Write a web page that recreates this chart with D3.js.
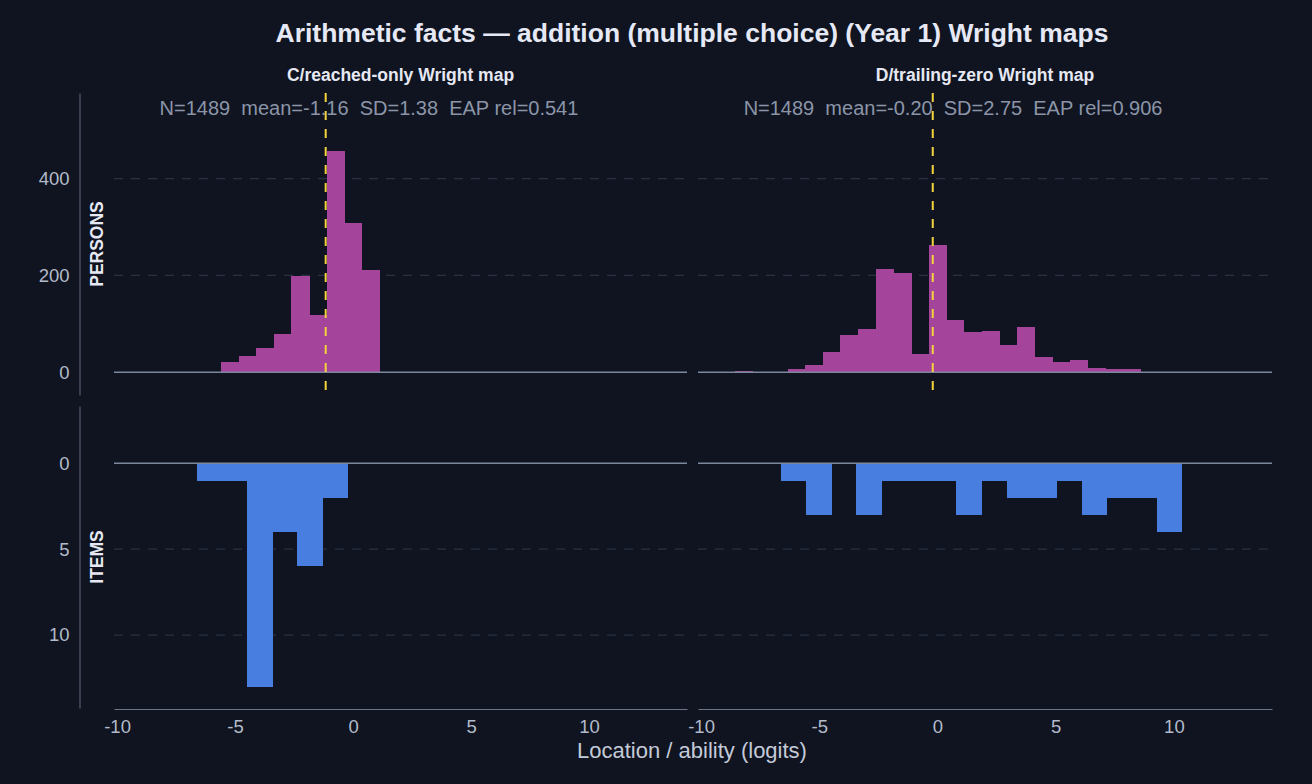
<!DOCTYPE html>
<html>
<head>
<meta charset="utf-8">
<script src="https://cdn.jsdelivr.net/npm/d3@7"></script>
<style>
  html, body { margin: 0; padding: 0; background: #0f1420; }
  svg { display: block; font-family: "Liberation Sans", Arial, Helvetica, sans-serif; }
</style>
</head>
<body>
<div id="chart"></div>
<script>
// ---- data ----
const panelTitles = ['C/reached-only Wright map', 'D/trailing-zero Wright map'];
const panelStats = [
  'N=1489  mean=-1.16  SD=1.38  EAP rel=0.541',
  'N=1489  mean=-0.20  SD=2.75  EAP rel=0.906'
];
const personMeans = [-1.16, -0.20];

// person histogram: shared bins
const personBinStart = -8.58;
const personBinWidth = 0.746;
const personCountsC = [0, 0, 0, 0, 21, 34, 50, 79, 199, 118, 458, 308, 211, 0, 0, 0, 0, 0, 0, 0, 0, 0, 0];
const personCountsD = [3, 0, 0, 7, 15, 42, 78, 90, 214, 206, 38, 263, 108, 84, 86, 56, 93, 32, 22, 26, 8, 6, 6];

// item histogram: shared bins
const itemBinStart = -6.61;
const itemBinWidth = 1.059;
const itemCountsC = [1, 1, 13, 4, 6, 2, 0, 0, 0, 0, 0, 0, 0, 0, 0, 0];
const itemCountsD = [1, 3, 0, 3, 1, 1, 1, 3, 1, 2, 2, 1, 3, 2, 2, 4];

const xTicks = [-10, -5, 0, 5, 10];
const personTicks = [0, 200, 400];
const itemTicks = [0, 5, 10];
const personGrid = [200, 400];
const itemGrid = [5, 10];

const W = 1312, H = 784;
const bg = '#0f1420';
const personColor = '#a5449b';
const itemColor = '#477ee0';
const meanColor = '#f2d33c';
const gridColor = '#283042';
const baseColor = '#7c879d';
const tickColor = '#b3bbca';

const panelsX = [[114, 687], [698, 1272]];
const personY = [395, 93];   // bottom, top
const itemY = [406, 708];    // top, bottom

const svg = d3.select('#chart').append('svg')
  .attr('width', W).attr('height', H)
  .attr('viewBox', `0 0 ${W} ${H}`);

svg.append('rect').attr('width', W).attr('height', H).attr('fill', bg);

const yP = d3.scaleLinear().domain([-47, 577]).range(personY);
const yI = d3.scaleLinear().domain([-3.34, 14.25]).range(itemY);

function binsOf(counts, start, width) {
  return counts.map((c, i) => ({ x0: start + i * width, x1: start + (i + 1) * width, n: c }));
}

const personSets = [
  binsOf(personCountsC, personBinStart, personBinWidth),
  binsOf(personCountsD, personBinStart, personBinWidth)
];
const itemSets = [
  binsOf(itemCountsC, itemBinStart, itemBinWidth),
  binsOf(itemCountsD, itemBinStart, itemBinWidth)
];

panelsX.forEach((range, p) => {
  const x = d3.scaleLinear().domain([-10.13, 14.15]).range(range);
  const g = svg.append('g');

  // grid
  g.selectAll('line.pgrid').data(personGrid).join('line')
    .attr('x1', range[0]).attr('x2', range[1])
    .attr('y1', d => yP(d)).attr('y2', d => yP(d))
    .attr('stroke', gridColor).attr('stroke-width', 1.2).attr('stroke-dasharray', '9 8');
  g.selectAll('line.igrid').data(itemGrid).join('line')
    .attr('x1', range[0]).attr('x2', range[1])
    .attr('y1', d => yI(d)).attr('y2', d => yI(d))
    .attr('stroke', gridColor).attr('stroke-width', 1.2).attr('stroke-dasharray', '9 8');

  // person bars
  g.selectAll('rect.person').data(personSets[p].filter(d => d.n > 0)).join('rect')
    .attr('x', d => x(d.x0))
    .attr('width', d => x(d.x1) - x(d.x0) + 0.5)
    .attr('y', d => yP(d.n))
    .attr('height', d => yP(0) - yP(d.n))
    .attr('fill', personColor)
    .attr('shape-rendering', 'crispEdges');

  // item bars (downward)
  g.selectAll('rect.item').data(itemSets[p].filter(d => d.n > 0)).join('rect')
    .attr('x', d => x(d.x0))
    .attr('width', d => x(d.x1) - x(d.x0) + 0.5)
    .attr('y', yI(0))
    .attr('height', d => yI(d.n) - yI(0))
    .attr('fill', itemColor)
    .attr('shape-rendering', 'crispEdges');

  // baselines
  g.append('line').attr('x1', range[0]).attr('x2', range[1])
    .attr('y1', yP(0)).attr('y2', yP(0)).attr('stroke', baseColor).attr('stroke-width', 1.5);
  g.append('line').attr('x1', range[0]).attr('x2', range[1])
    .attr('y1', yI(0)).attr('y2', yI(0)).attr('stroke', baseColor).attr('stroke-width', 1.5);

  // mean line
  g.append('line')
    .attr('x1', x(personMeans[p])).attr('x2', x(personMeans[p]))
    .attr('y1', personY[1]).attr('y2', personY[0])
    .attr('stroke', meanColor).attr('stroke-width', 2).attr('stroke-dasharray', '9 9');

  // bottom axis
  const axis = g.append('g').attr('transform', `translate(0,${itemY[1] + 1})`)
    .call(d3.axisBottom(x).tickValues(xTicks).tickSize(0).tickPadding(11).tickFormat(d3.format('d')));
  axis.select('.domain').attr('stroke', '#6c768b').attr('stroke-width', 1.2);
  axis.selectAll('text').attr('fill', tickColor).attr('font-size', 18.5)
    .text(d => String(d));

  // titles
  svg.append('text')
    .attr('x', (range[0] + range[1]) / 2).attr('y', 81)
    .attr('text-anchor', 'middle').attr('font-size', 17.5).attr('font-weight', 'bold')
    .attr('fill', '#e6e9f3').text(panelTitles[p]);
  svg.append('text')
    .attr('x', x(-8.2)).attr('y', 115)
    .attr('font-size', 20).attr('fill', '#8c95a8')
    .style('white-space', 'pre')
    .text(panelStats[p]);
});

// left y axes
const yAxisP = svg.append('g').attr('transform', 'translate(79.5,0)')
  .call(d3.axisLeft(yP).tickValues(personTicks).tickSize(0).tickPadding(10));
const yAxisI = svg.append('g').attr('transform', 'translate(79.5,0)')
  .call(d3.axisLeft(yI).tickValues(itemTicks).tickSize(0).tickPadding(10));
[yAxisP, yAxisI].forEach(a => {
  a.select('.domain').attr('stroke', '#5f697e').attr('stroke-width', 1);
  a.selectAll('text').attr('fill', tickColor).attr('font-size', 18.5);
});

svg.append('text')
  .attr('transform', `translate(103,${(personY[0] + personY[1]) / 2}) rotate(-90)`)
  .attr('text-anchor', 'middle').attr('font-size', 17.5).attr('font-weight', 'bold')
  .attr('fill', '#e6e9f3').text('PERSONS');
svg.append('text')
  .attr('transform', `translate(103,${(itemY[0] + itemY[1]) / 2}) rotate(-90)`)
  .attr('text-anchor', 'middle').attr('font-size', 17.5).attr('font-weight', 'bold')
  .attr('fill', '#e6e9f3').text('ITEMS');

// main title and x label
svg.append('text')
  .attr('x', 692).attr('y', 42)
  .attr('text-anchor', 'middle').attr('font-size', 26.5).attr('font-weight', 'bold')
  .attr('fill', '#e6e9f5')
  .text('Arithmetic facts — addition (multiple choice) (Year 1) Wright maps');
svg.append('text')
  .attr('x', 692).attr('y', 758)
  .attr('text-anchor', 'middle').attr('font-size', 22)
  .attr('fill', '#c4cad8')
  .text('Location / ability (logits)');
</script>
</body>
</html>
